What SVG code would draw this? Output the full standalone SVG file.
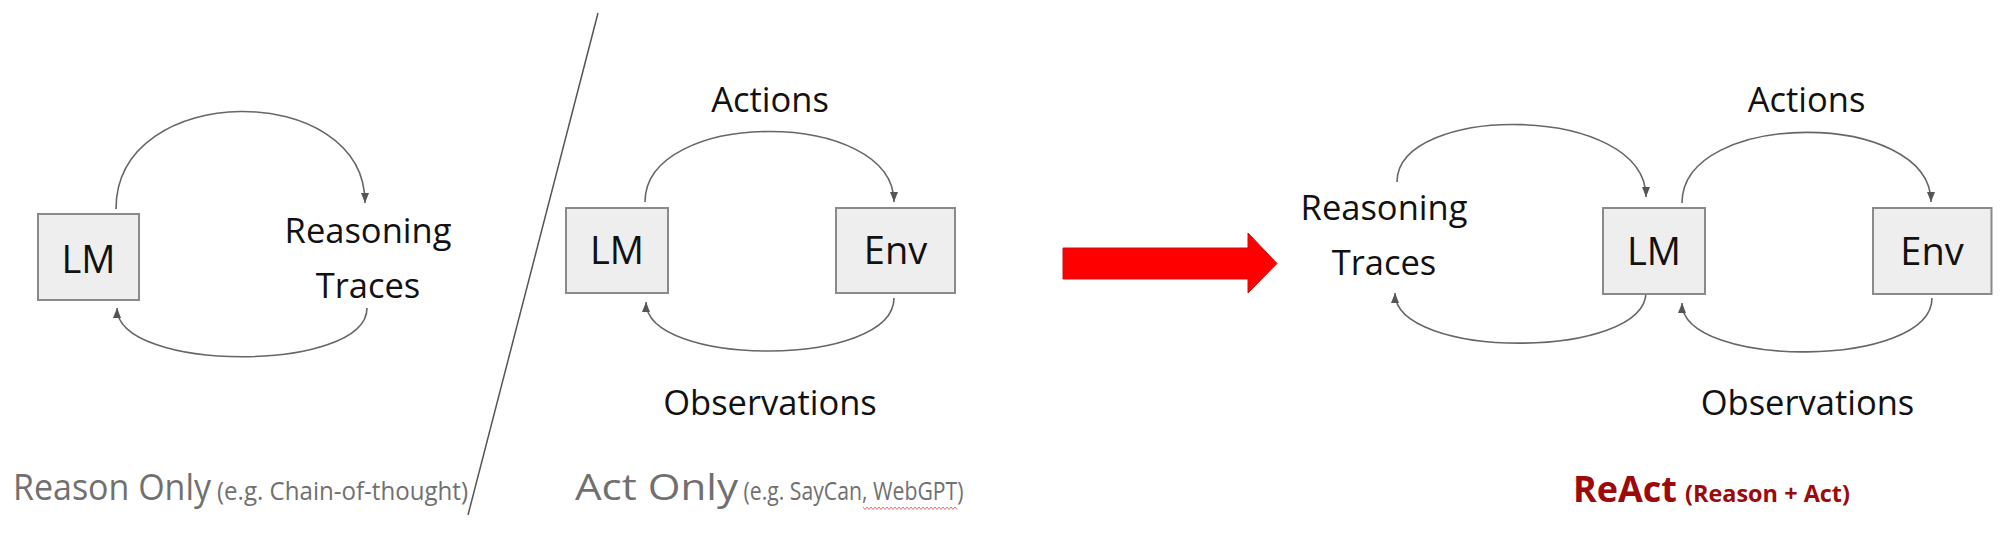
<svg xmlns="http://www.w3.org/2000/svg" width="2003" height="556" viewBox="0 0 2003 556">
  <style>
    .box { fill: #eeeeee; stroke: #8a8a8a; stroke-width: 2; }
    .node { font-family: "Open Sans", "Noto Sans", sans-serif; font-size: 38px; fill: #111; text-anchor: middle; }
    .lbl { font-family: "Open Sans", "Noto Sans", sans-serif; font-size: 34.5px; fill: #111; text-anchor: middle; }
    .cap { font-family: "Open Sans", "Noto Sans", sans-serif; fill: #707070; }
    .big { font-size: 37px; }
    .small { font-size: 25px; }
    .react { font-family: "Open Sans", "Noto Sans", sans-serif; font-weight: bold; fill: #9c0a0a; }
    .arc { fill: none; stroke: #666; stroke-width: 1.6; marker-end: url(#ah); }
  </style>
  <defs>
    <marker id="ah" viewBox="0 0 10 10" refX="10" refY="5" markerWidth="10" markerHeight="10" markerUnits="userSpaceOnUse" orient="auto">
      <path d="M0,1 L10,5 L0,9 Z" fill="#555"/>
    </marker>
  </defs>
  <rect width="2003" height="556" fill="#ffffff"/>

  <!-- divider -->
  <line x1="598" y1="13" x2="468" y2="515" stroke="#555" stroke-width="1.5"/>

  <g id="connectors">
    <!-- Reason only -->
    <path class="arc" d="M116,209 C116,80 365,80 365,203"/>
    <path class="arc" d="M367,308 C367,373 117,373 117,308"/>
    <!-- Act only -->
    <path class="arc" d="M645,202 C645,108 894,108 894,202"/>
    <path class="arc" d="M894,298 C894,368 646,368 646,302"/>
    <!-- ReAct -->
    <path class="arc" d="M1397,182 C1397,103 1646,103 1646,197"/>
    <path class="arc" d="M1646,292 C1646,360 1395,360 1395,293"/>
    <path class="arc" d="M1682,203 C1682,109 1931,109 1931,202"/>
    <path class="arc" d="M1932,298 C1932,369 1682,369 1682,303"/>
    <!-- big red arrow -->
    <polygon points="1063,248 1248,248 1248,233 1277,263.5 1248,293 1248,279 1063,279" fill="#ff0000" stroke="#c81010" stroke-width="1"/>
  </g>

  <!-- Reason Only -->
  <g id="lm-reason">
    <rect class="box" x="38" y="214" width="101" height="86"/>
    <text class="node" x="88.5" y="272.5">LM</text>
  </g>
  <g id="traces-reason">
    <text class="lbl" x="368" y="243">Reasoning</text>
    <text class="lbl" x="368" y="298">Traces</text>
  </g>

  <!-- Act Only -->
  <g id="lm-act">
    <rect class="box" x="566" y="208" width="102" height="85"/>
    <text class="node" x="617" y="264">LM</text>
  </g>
  <g id="env-act">
    <rect class="box" x="836" y="208" width="119" height="85"/>
    <text class="node" x="895.5" y="264">Env</text>
  </g>
  <g id="labels-act">
    <text class="lbl" x="770" y="111.5">Actions</text>
    <text class="lbl" x="770" y="415">Observations</text>
  </g>

  <!-- ReAct -->
  <g id="traces-react">
    <text class="lbl" x="1384" y="220">Reasoning</text>
    <text class="lbl" x="1384" y="275">Traces</text>
  </g>
  <g id="lm-react">
    <rect class="box" x="1603" y="208" width="102" height="86"/>
    <text class="node" x="1654" y="265">LM</text>
  </g>
  <g id="env-react">
    <rect class="box" x="1873" y="208" width="118.5" height="86"/>
    <text class="node" x="1932" y="265">Env</text>
  </g>
  <g id="labels-react">
    <text class="lbl" x="1806.5" y="111.5">Actions</text>
    <text class="lbl" x="1807.5" y="415">Observations</text>
  </g>

  <!-- captions -->
  <g id="captions">
    <text class="cap big" x="13" y="500" textLength="198" lengthAdjust="spacingAndGlyphs">Reason Only</text>
    <text class="cap small" x="217" y="500" textLength="251" lengthAdjust="spacingAndGlyphs">(e.g. Chain-of-thought)</text>
    <text class="cap big" x="575" y="500" textLength="163" lengthAdjust="spacingAndGlyphs">Act Only</text>
    <text class="cap small" x="743.5" y="500" textLength="220" lengthAdjust="spacingAndGlyphs">(e.g. SayCan, WebGPT)</text>
    <polyline points="863,507 865,509.5 867,507 869,509.5 871,507 873,509.5 875,507 877,509.5 879,507 881,509.5 883,507 885,509.5 887,507 889,509.5 891,507 893,509.5 895,507 897,509.5 899,507 901,509.5 903,507 905,509.5 907,507 909,509.5 911,507 913,509.5 915,507 917,509.5 919,507 921,509.5 923,507 925,509.5 927,507 929,509.5 931,507 933,509.5 935,507 937,509.5 939,507 941,509.5 943,507 945,509.5 947,507 949,509.5 951,507 953,509.5 955,507 957,509.5" fill="none" stroke="#e07070" stroke-width="1"/>
    <text class="react" x="1573" y="501.5" font-size="35" textLength="104" lengthAdjust="spacingAndGlyphs">ReAct</text>
    <text class="react" x="1685" y="501.5" font-size="23" textLength="165" lengthAdjust="spacingAndGlyphs">(Reason + Act)</text>
  </g>
</svg>
